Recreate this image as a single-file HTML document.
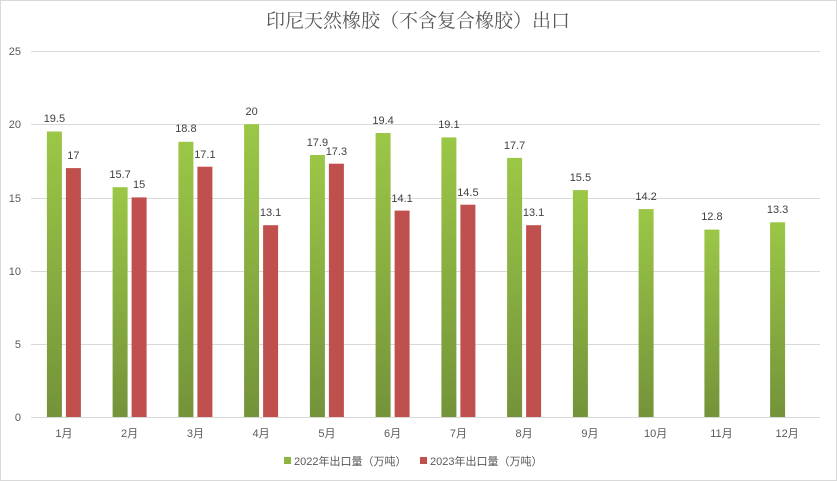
<!DOCTYPE html>
<html><head><meta charset="utf-8"><style>
html,body{margin:0;padding:0;background:#fff;}
svg{display:block;font-family:"Liberation Sans","Noto Sans CJK SC",sans-serif;}
</style></head><body>
<svg width="837" height="481" viewBox="0 0 837 481" xmlns="http://www.w3.org/2000/svg">
<defs>
<linearGradient id="g" x1="0" y1="0" x2="0" y2="1"><stop offset="0" stop-color="#9bc746"/><stop offset="1" stop-color="#74933a"/></linearGradient>
</defs>
<rect x="0.5" y="0.5" width="836" height="480" fill="#fff" stroke="#d9d9d9"/>
<text x="418" y="27" text-anchor="middle" font-size="19" fill="#595959" font-family="'Noto Serif CJK SC','Noto Sans CJK SC',serif">印尼天然橡胶（不含复合橡胶）出口</text>
<g stroke="#d9d9d9" stroke-width="1">
<line x1="31" x2="820" y1="51.5" y2="51.5"/>
<line x1="31" x2="820" y1="124.5" y2="124.5"/>
<line x1="31" x2="820" y1="198.5" y2="198.5"/>
<line x1="31" x2="820" y1="271.5" y2="271.5"/>
<line x1="31" x2="820" y1="344.5" y2="344.5"/>
<line x1="31" x2="820" y1="417.5" y2="417.5"/>
</g>
<g font-size="11" fill="#595959" text-anchor="end">
<text x="21" y="421">0</text><text x="21" y="348">5</text><text x="21" y="275">10</text><text x="21" y="202">15</text><text x="21" y="128">20</text><text x="21" y="55">25</text>
</g>
<g fill="url(#g)">
<rect x="46.9" y="131.5" width="15" height="285.5"/>
<rect x="112.6" y="187.2" width="15" height="229.8"/>
<rect x="178.4" y="141.8" width="15" height="275.2"/>
<rect x="244.1" y="124.2" width="15" height="292.8"/>
<rect x="309.9" y="155.0" width="15" height="262"/>
<rect x="375.6" y="133.0" width="15" height="284"/>
<rect x="441.4" y="137.4" width="15" height="279.6"/>
<rect x="507.1" y="157.9" width="15" height="259.1"/>
<rect x="572.9" y="190.1" width="15" height="226.9"/>
<rect x="638.6" y="209.1" width="15" height="207.9"/>
<rect x="704.4" y="229.6" width="15" height="187.4"/>
<rect x="770.1" y="222.3" width="15" height="194.7"/>
</g>
<g fill="#c0504d">
<rect x="65.9" y="168.1" width="15" height="248.9"/>
<rect x="131.6" y="197.4" width="15" height="219.6"/>
<rect x="197.4" y="166.7" width="15" height="250.3"/>
<rect x="263.1" y="225.2" width="15" height="191.8"/>
<rect x="328.9" y="163.7" width="15" height="253.3"/>
<rect x="394.6" y="210.6" width="15" height="206.4"/>
<rect x="460.4" y="204.7" width="15" height="212.3"/>
<rect x="526.1" y="225.2" width="15" height="191.8"/>
</g>
<g font-size="11" fill="#404040" text-anchor="middle">
<text x="54.4" y="122">19.5</text><text x="120.1" y="178">15.7</text><text x="185.9" y="132">18.8</text><text x="251.6" y="115">20</text><text x="317.4" y="146">17.9</text><text x="383.1" y="124">19.4</text><text x="448.9" y="128">19.1</text><text x="514.6" y="149">17.7</text><text x="580.4" y="181">15.5</text><text x="646.1" y="200">14.2</text><text x="711.9" y="220">12.8</text><text x="777.6" y="213">13.3</text>
<text x="73.4" y="159">17</text><text x="139.1" y="188">15</text><text x="204.9" y="158">17.1</text><text x="270.6" y="216">13.1</text><text x="336.4" y="155">17.3</text><text x="402.1" y="202">14.1</text><text x="467.9" y="196">14.5</text><text x="533.6" y="216">13.1</text>
</g>
<g font-size="11" fill="#595959" text-anchor="middle">
<text x="63.9" y="437">1月</text><text x="129.6" y="437">2月</text><text x="195.4" y="437">3月</text><text x="261.1" y="437">4月</text><text x="326.9" y="437">5月</text><text x="392.6" y="437">6月</text><text x="458.4" y="437">7月</text><text x="524.1" y="437">8月</text><text x="589.9" y="437">9月</text><text x="655.6" y="437">10月</text><text x="721.4" y="437">11月</text><text x="787.1" y="437">12月</text>
</g>
<rect x="284" y="457" width="7" height="7" fill="#8db340"/>
<text x="294" y="465" font-size="11" fill="#595959">2022年出口量（万吨）</text>
<rect x="420" y="457" width="7" height="7" fill="#c0504d"/>
<text x="430" y="465" font-size="11" fill="#595959">2023年出口量（万吨）</text>
</svg>
</body></html>
